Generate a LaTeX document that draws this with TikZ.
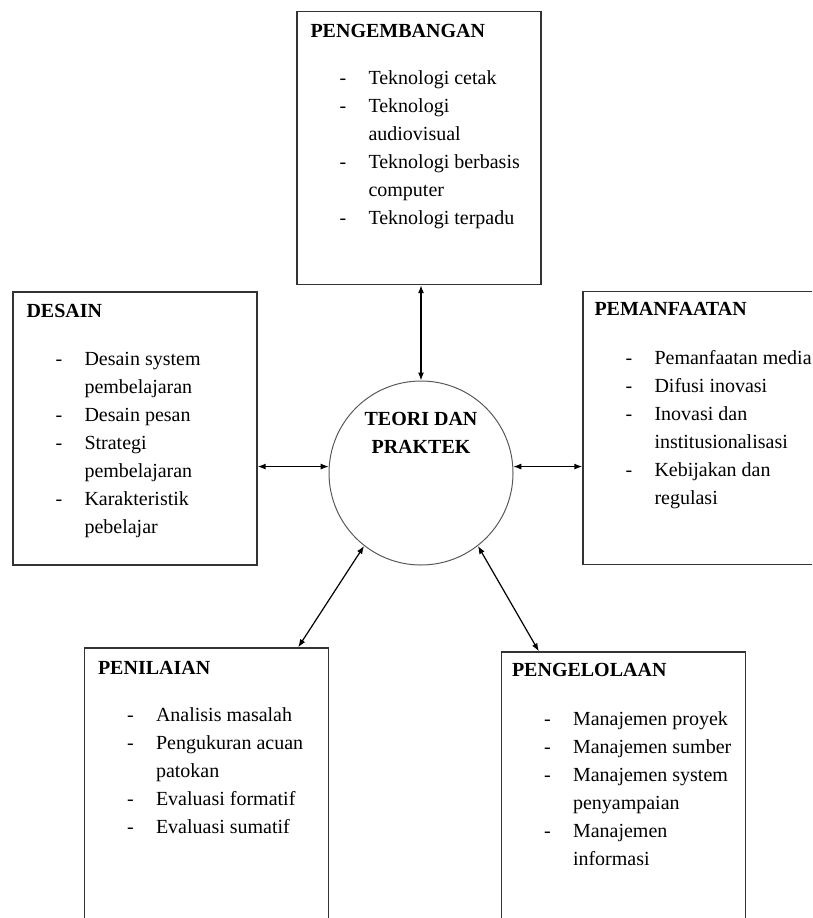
\documentclass[tikz,border=0pt]{standalone}
\usepackage{fontspec}
\setmainfont{Liberation Serif}
\usetikzlibrary{arrows.meta}

\tikzset{
  kotak/.style={draw=black!80, line width=1.4pt, minimum width=244pt, minimum height=273pt, inner sep=0pt},
  hub/.style={draw=black!65, line width=1pt, circle, minimum size=184pt, inner sep=0pt},
  judul/.style={anchor=base west, inner sep=0pt, font=\fontsize{20}{28}\selectfont\bfseries},
  isi/.style={anchor=base west, inner sep=0pt, font=\fontsize{20}{28}\selectfont},
  panah/.style={{Latex[length=8pt,width=6pt]}-{Latex[length=8pt,width=6pt]}, line width=1.2pt},
}

% list lines inside a box: dash/text
\newcommand{\daftar}[2]{%
  \foreach \dsh/\txt [count=\i] in {#2} {
    \pgfmathsetmacro\yy{-74-(\i-1)*28}
    \node[isi] at ([xshift=43pt,yshift=\yy pt]#1.north west) {\dsh};
    \node[isi] at ([xshift=72pt,yshift=\yy pt]#1.north west) {\txt};
  }}

\begin{document}
\begin{tikzpicture}[x=1pt,y=-1pt]
  \useasboundingbox (0,0) rectangle (812,918);
  \clip (0,0) rectangle (812,918);

  % centre
  \node[hub] (teori) at (421,473) {};
  \node[judul, anchor=base] at (421,425) {TEORI DAN};
  \node[judul, anchor=base] at (421,453) {PRAKTEK};

  % boxes
  \node[kotak] (pengembangan) at (419,148) {};
  \node[kotak] (desain) at (135,428.5) {};
  \node[kotak] (pemanfaatan) at (705,428) {};
  \node[kotak] (penilaian) at (206.5,784.5) {};
  \node[kotak] (pengelolaan) at (623.5,788.5) {};

  \node[judul] at ([xshift=14pt,yshift=-27pt]pengembangan.north west) {PENGEMBANGAN};
  \daftar{pengembangan}{-/Teknologi cetak, -/Teknologi, /audiovisual,
    -/Teknologi berbasis, /computer, -/Teknologi terpadu}

  \node[judul] at ([xshift=14pt,yshift=-26pt]desain.north west) {DESAIN};
  \daftar{desain}{-/Desain system, /pembelajaran, -/Desain pesan, -/Strategi,
    /pembelajaran, -/Karakteristik, /pebelajar}

  \node[judul] at ([xshift=12pt,yshift=-25pt]pemanfaatan.north west) {PEMANFAATAN};
  \daftar{pemanfaatan}{-/Pemanfaatan media, -/Difusi inovasi, -/Inovasi dan,
    /institusionalisasi, -/Kebijakan dan, /regulasi}

  \node[judul] at ([xshift=14pt,yshift=-27pt]penilaian.north west) {PENILAIAN};
  \daftar{penilaian}{-/Analisis masalah, -/Pengukuran acuan, /patokan,
    -/Evaluasi formatif, -/Evaluasi sumatif}

  \node[judul] at ([xshift=11pt,yshift=-25pt]pengelolaan.north west) {PENGELOLAAN};
  \daftar{pengelolaan}{-/Manajemen proyek, -/Manajemen sumber, -/Manajemen system,
    /penyampaian, -/Manajemen, /informasi}

  % connectors
  \draw[panah] (teori.north) -- (teori.north |- pengembangan.south);
  \draw[panah] (desain.east |- teori.176) -- (teori.176);
  \draw[panah] (teori.4) -- (teori.4 -| pemanfaatan.west);
  \draw[panah] (teori.232) -- ([xshift=-31pt]penilaian.north east);
  \draw[panah] (teori.308) -- ([xshift=38pt]pengelolaan.north west);
\end{tikzpicture}
\end{document}
